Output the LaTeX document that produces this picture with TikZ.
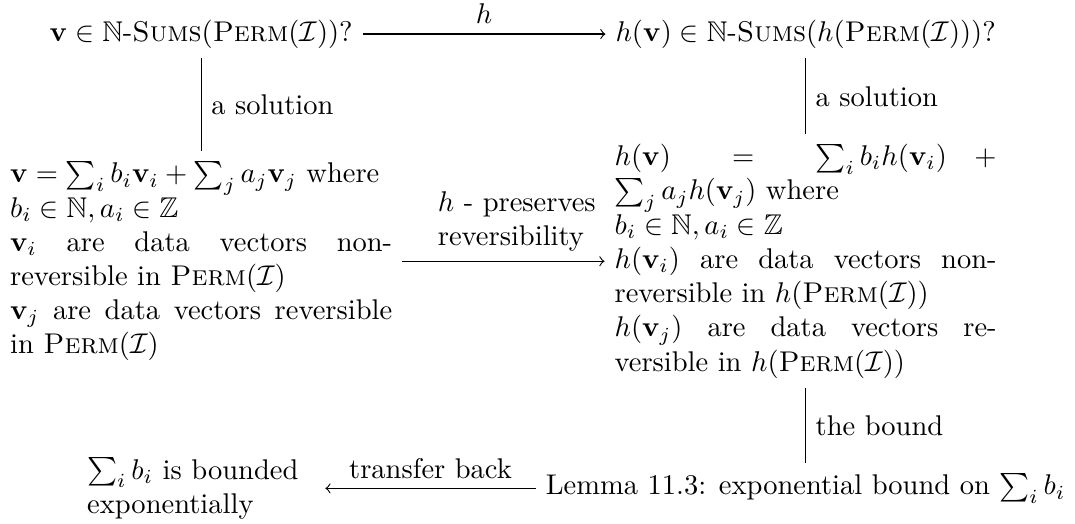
\documentclass[tikz,border=0pt]{standalone}
\usepackage{amsmath,amssymb}
\newcommand{\Perm}{\textsc{Perm}}
\newcommand{\NSums}{\mathbb{N}\text{-}\textsc{Sums}}
\begin{document}
\begin{tikzpicture}[sol/.style={text width=134pt, align=justify}]
\useasboundingbox (0,0) rectangle (13.25,-6.45);
\node (q1) at (2.48,-0.42) {$\mathbf{v}\in\NSums(\Perm(\mathcal{I}))$?};
\node (q2) at (9.93,-0.42) {$h(\mathbf{v})\in\NSums(h(\Perm(\mathcal{I})))$?};
\node[sol] (s1) at (2.48,-3.22) {$\mathbf{v}=\sum_i b_i\mathbf{v}_i+\sum_j a_j\mathbf{v}_j$ where\\
$b_i\in\mathbb{N}, a_i\in\mathbb{Z}$\\
$\mathbf{v}_i$ are data vectors non-reversible in $\Perm(\mathcal{I})$\\
$\mathbf{v}_j$ are data vectors reversible in $\Perm(\mathcal{I})$};
\node[sol] (s2) at (9.93,-3.22) {$h(\mathbf{v})=\sum_i b_i h(\mathbf{v}_i)+\sum_j a_j h(\mathbf{v}_j)$ where\\
$b_i\in\mathbb{N}, a_i\in\mathbb{Z}$\\
$h(\mathbf{v}_i)$ are data vectors non-reversible in $h(\Perm(\mathcal{I}))$\\
$h(\mathbf{v}_j)$ are data vectors reversible in $h(\Perm(\mathcal{I}))$};
\node[text width=80pt, align=left] (bl) at (2.48,-6.02) {$\sum_i b_i$ is bounded exponentially};
\node (lemma) at (9.93,-6.02) {Lemma 11.3: exponential bound on $\sum_i b_i$};
\draw[->] (q1) -- (q2) node[midway, above] {$h$};
\draw (q1) -- (s1) node[midway, right] {a solution};
\draw (q2) -- (s2) node[midway, right] {a solution};
\draw[->] (s1) -- (s2) node[midway, above, xshift=6pt, text width=58pt, align=left] {$h$ - preserves reversibility};
\draw (s2) -- (lemma) node[midway, right] {the bound};
\draw[->] (lemma) -- (bl) node[midway, above] {transfer back};
\end{tikzpicture}
\end{document}
